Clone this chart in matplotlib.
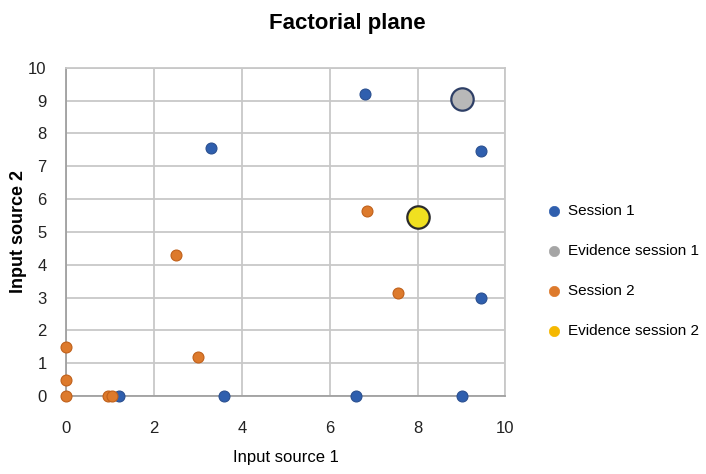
import matplotlib
matplotlib.use("Agg")
import matplotlib.pyplot as plt

# data
s1_x = [3.3, 6.8, 9.45, 9.45, 1.2, 3.6, 6.6, 9.0]
s1_y = [7.55, 9.2, 7.45, 3.0, 0.0, 0.0, 0.0, 0.0]
ev1_x = [9.0]
ev1_y = [9.05]
s2_x = [2.5, 6.85, 7.55, 3.0, 0.0, 0.0, 0.0, 0.95, 1.05]
s2_y = [4.3, 5.65, 3.15, 1.2, 1.5, 0.5, 0.0, 0.0, 0.0]
ev2_x = [8.0]
ev2_y = [5.45]

plt.rcParams['font.family'] = ['Liberation Sans', 'DejaVu Sans']

fig = plt.figure(figsize=(7.06, 4.74), dpi=100)
ax = fig.add_axes([0.0935, 0.1646, 0.6225, 0.6925])

ax.scatter(s1_x, s1_y, s=62, color='#2f5fae', edgecolors='#2a4f90', linewidths=0.8,
           zorder=3, label='Session 1', clip_on=False)
ax.scatter(ev1_x, ev1_y, s=260, color='#b8b8b8', edgecolors='#2e3f66', linewidths=1.6,
           zorder=3, label='Evidence session 1', clip_on=False)
ax.scatter(s2_x, s2_y, s=62, color='#dd7a2c', edgecolors='#c0601a', linewidths=0.8,
           zorder=3, label='Session 2', clip_on=False)
ax.scatter(ev2_x, ev2_y, s=260, color='#f0e020', edgecolors='#2b2b2b', linewidths=1.6,
           zorder=3, label='Evidence session 2', clip_on=False)

ax.set_xlim(0, 10)
ax.set_ylim(0, 10)
ax.set_xticks(range(0, 11, 2))
ax.set_yticks(range(0, 11))
ax.grid(True, color='#c8c8c8', linewidth=1.3, zorder=0)
ax.set_axisbelow(True)
for side in ['top', 'right']:
    ax.spines[side].set_color('#c8c8c8')
    ax.spines[side].set_linewidth(1.3)
for side in ['left', 'bottom']:
    ax.spines[side].set_color('#a0a0a0')
    ax.spines[side].set_linewidth(1.3)
ax.tick_params(length=0, labelsize=12, colors='#222222')
ax.tick_params(axis='x', pad=18)
ax.tick_params(axis='y', pad=14)

ax.set_title('Factorial plane', fontsize=16, fontweight='bold', pad=28, x=0.64)
ax.set_xlabel('Input source 1', fontsize=12, labelpad=10, x=0.5)
ax.set_ylabel('Input source 2', fontsize=13, fontweight='bold', labelpad=1)

leg = ax.legend(loc='center left', bbox_to_anchor=(1.045, 0.38), frameon=False,
                fontsize=11, labelspacing=1.7, handletextpad=-0.1, markerscale=1.0)
# legend swatches are the plain series colours (as in the Excel original)
legend_colors = ['#2f5fae', '#a5a5a5', '#dd7a2c', '#f5b800']
for h, c in zip(leg.legend_handles, legend_colors):
    h.set_sizes([55])
    h.set_facecolor(c)
    h.set_edgecolor(c)
    h.set_linewidth(0.5)

fig.savefig('out.png', dpi=100)
